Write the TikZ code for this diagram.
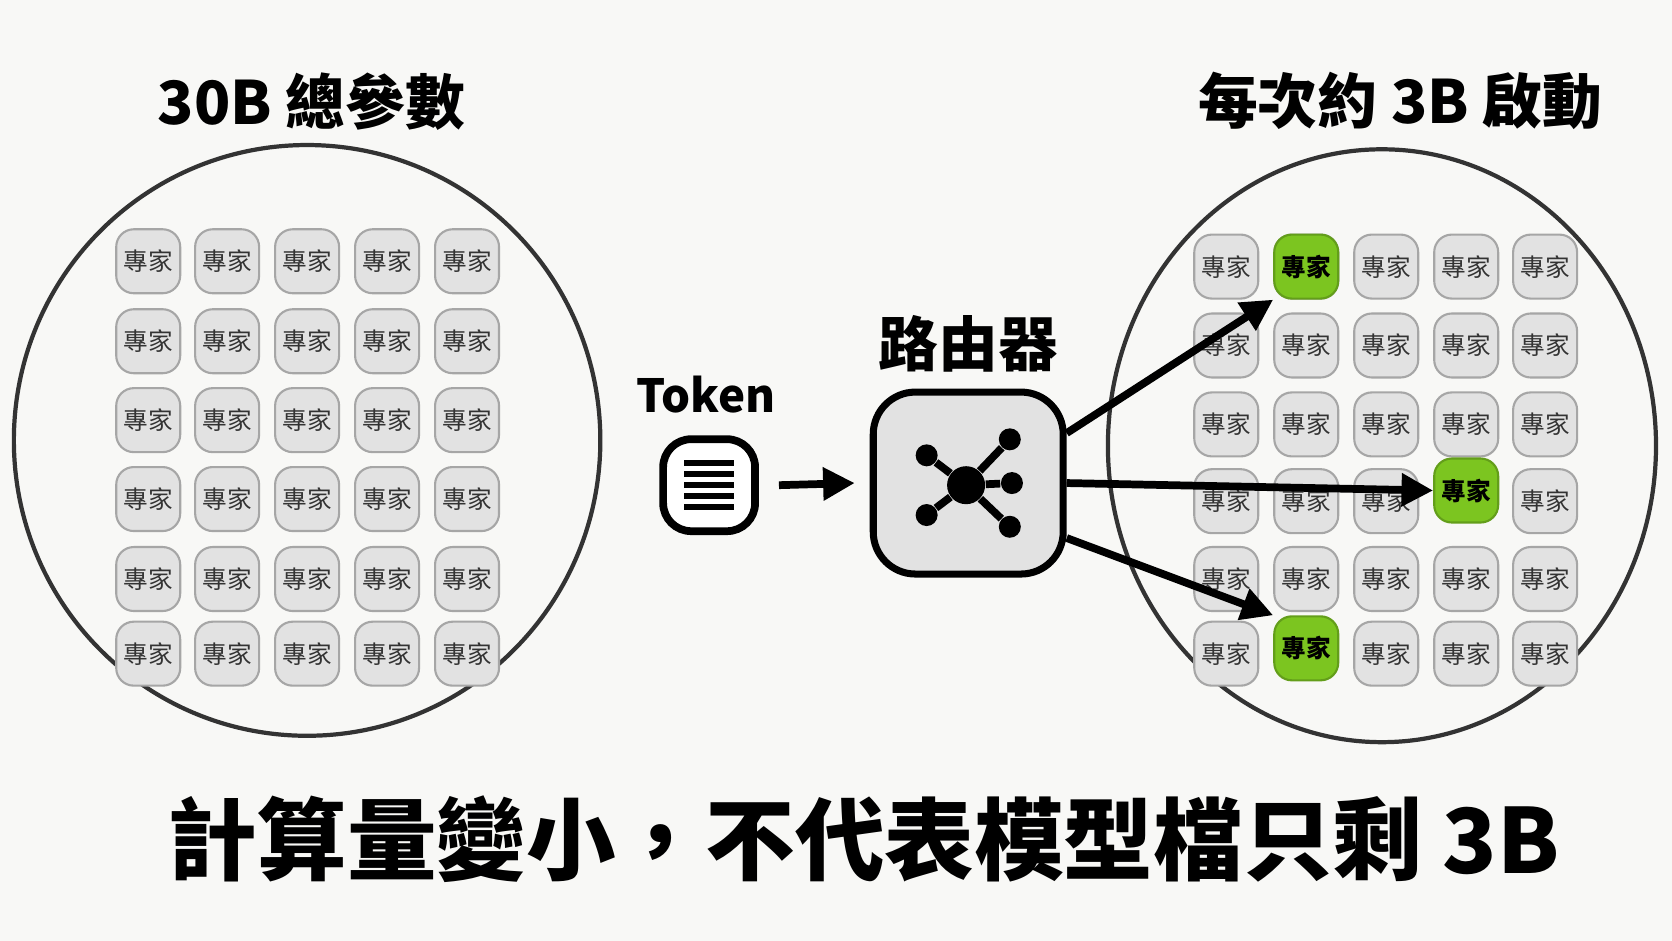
\documentclass[tikz,border=0pt]{standalone}
\usepackage{fontspec}
\setmainfont{Noto Sans CJK TC}
\usetikzlibrary{arrows.meta,positioning}
\definecolor{paper}{HTML}{F8F8F6}
\definecolor{boxgray}{HTML}{E2E2E2}
\definecolor{hotgreen}{HTML}{7CC520}
\tikzset{
  expert/.style = {draw=gray!70, fill=boxgray, rounded corners=5pt, line width=0.6pt, inner sep=0pt,
                   minimum width=0.64cm, minimum height=0.64cm, font=\fontsize{7}{8}\selectfont, text=black!80},
  hot/.style    = {expert, fill=hotgreen, draw=hotgreen!80!black, font=\bfseries\fontsize{7}{8}\selectfont, text=black},
  title/.style  = {font=\bfseries\fontsize{17}{20}\selectfont},
  route/.style  = {line width=2.2pt, -{Triangle[length=9pt,width=9pt]}}
}
\begin{document}
\begin{tikzpicture}[x=0.01066cm, y=-0.01066cm]
  \fill[paper] (0,0) rectangle (1568,882);
  \useasboundingbox (0,0) rectangle (1568,882);

  % titles
  \node[title] (total) at (292,95) {30B 總參數};
  \node[title] (active) at (1313,95) {每次約 3B 啟動};

  % left pool
  \draw[line width=1.2pt, black!80] (288,413) ellipse (275 and 277);
  \foreach \c/\x in {1/139,2/213,3/288,4/363,5/438}
    \foreach \r/\y in {1/245,2/320,3/394,4/468,5/543,6/613}
      \node[expert] (l\r\c) at (\x,\y) {專家};

  % right pool
  \draw[line width=1.2pt, black!80] (1296,418) ellipse (257 and 278);
  \foreach \c/\x in {1/1150,2/1225,3/1300,4/1375,5/1449}
    \foreach \r/\y in {1/250,2/324,3/398,4/470,5/543,6/613} {
      \ifnum\r\c=44\relax\else\ifnum\r\c=62\relax\else
        \node[expert] (r\r\c) at (\x,\y) {專家};\fi\fi
    }
  \node[hot] (g1) at (1225,250) {專家};
  \node[hot] (g2) at (1375,460) {專家};
  \node[hot] (g3) at (1225,608) {專家};

  % token
  \node[font=\bfseries\fontsize{13}{16}\selectfont] (tok) at (662,370) {Token};
  \node[draw, line width=2.2pt, rounded corners=8pt, fill=white,
        minimum width=0.92cm, minimum height=0.92cm] (doc) at (665,455) {};
  \foreach \y in {-0.22,-0.11,0,0.11,0.22}
    \draw[line width=1.8pt] ([xshift=-0.25cm, yshift=\y cm]doc.center) -- ++(0.5cm,0);

  % router
  \node[title] (rlabel) at (908,322) {路由器};
  \node[draw, line width=2pt, rounded corners=12pt, fill=boxgray,
        minimum width=1.9cm, minimum height=1.82cm] (router) at (908,453) {};
  \node[circle, fill=black, inner sep=0pt, minimum size=0.38cm] (hub) at (906,455) {};
  \foreach \n/\x/\y in {a/869/427,b/869/483,c/947/412,d/949/453,e/947/494} {
    \node[circle, fill=black, inner sep=0pt, minimum size=0.22cm] (\n) at (\x,\y) {};
    \draw[line width=2.2pt] (hub) -- (\n);
  }

  \draw[route] ([xshift=0.2cm]doc.east) -- ([xshift=-0.15cm]router.west);

  % routes
  \draw[route] ([yshift=0.5cm]router.east) -- (g1.south west);
  \draw[route] (router.east) -- (g2.west);
  \draw[route] ([yshift=-0.55cm]router.east) -- (g3.north west);

  % caption
  \node[font=\bfseries\fontsize{25.5}{28}\selectfont] (caption) at (810,787) {計算量變小，不代表模型檔只剩 3B};
\end{tikzpicture}
\end{document}
